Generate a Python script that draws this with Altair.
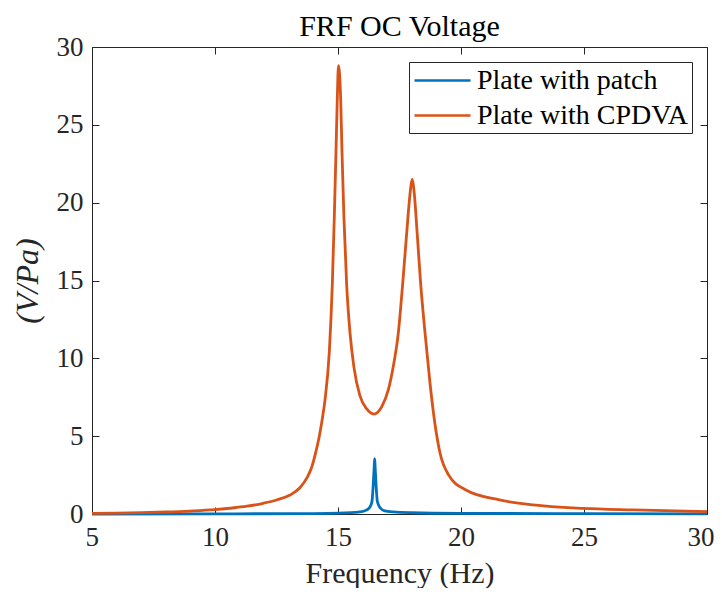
import altair as alt
import pandas as pd

# Plate with patch (blue)
patch_freq = [5.0, 10.0, 14.0, 15.0, 15.9, 16.15, 16.3, 16.38, 16.43, 16.47, 16.49,
              16.51, 16.55, 16.6, 16.71, 16.9, 17.25, 18.0, 20.0, 25.0, 30.0]
patch_val = [0.0, 0.01, 0.03, 0.05, 0.13, 0.25, 0.45, 0.8, 1.8, 3.0, 3.55,
             3.0, 1.8, 0.8, 0.4, 0.2, 0.13, 0.08, 0.04, 0.02, 0.01]

# Plate with CPDVA (orange)
cpdva_freq = [5.0, 6.0, 7.0, 8.0, 9.0, 10.0, 10.6, 11.3, 11.96, 12.5, 13.05, 13.46,
              13.73, 13.93, 14.07, 14.24, 14.35, 14.47, 14.65, 14.77, 14.85, 14.92,
              14.97, 15.02, 15.11, 15.16, 15.24, 15.35, 15.49, 15.65, 15.89, 16.17,
              16.46, 16.78, 17.05, 17.25, 17.45, 17.63, 17.79, 17.93, 18.01, 18.1,
              18.22, 18.36, 18.54, 18.74, 18.94, 19.15, 19.5, 20.2, 21.57, 22.93,
              24.96, 27.0, 30.0]
cpdva_val = [0.04, 0.06, 0.09, 0.13, 0.19, 0.28, 0.37, 0.5, 0.69, 0.9, 1.22, 1.7,
             2.3, 3.0, 3.8, 5.0, 6.0, 7.3, 10.5, 14.8, 19.1, 23.4,
             26.6, 28.8, 26.6, 23.4, 19.1, 14.8, 11.6, 9.4, 7.6, 6.75,
             6.42, 6.9, 8.0, 9.5, 11.6, 14.8, 18.0, 20.6, 21.5, 20.6,
             18.0, 14.8, 11.6, 8.4, 5.8, 3.9, 2.5, 1.54, 0.9, 0.58,
             0.36, 0.26, 0.15]

series_names = ["Plate with patch", "Plate with CPDVA"]
series_colors = ["#0072BD", "#D95319"]
x_ticks = [5, 10, 15, 20, 25, 30]
y_ticks = [0, 5, 10, 15, 20, 25, 30]

df = pd.concat([
    pd.DataFrame({"f": patch_freq, "v": patch_val, "series": series_names[0], "order": 0}),
    pd.DataFrame({"f": cpdva_freq, "v": cpdva_val, "series": series_names[1], "order": 1}),
])

W, H = 615, 467
FONT = "Liberation Serif"
AX = "#262626"

xscale = alt.Scale(domain=[5, 30], nice=False, zero=False)
yscale = alt.Scale(domain=[0, 30], nice=False)

lines = alt.Chart(df).mark_line(strokeWidth=2.8, interpolate="monotone").encode(
    x=alt.X("f:Q", scale=xscale, title="Frequency (Hz)",
            axis=alt.Axis(values=x_ticks, ticks=False, domain=False, grid=False,
                          labelPadding=10, labelFontSize=27, labelFont=FONT, labelColor=AX,
                          titleFont=FONT, titleFontSize=30, titleFontWeight="normal",
                          titleColor=AX, titlePadding=8,
                          labelFlush=True, labelFlushOffset=7)),
    y=alt.Y("v:Q", scale=yscale, title="(V/Pa)",
            axis=alt.Axis(values=y_ticks, ticks=False, domain=False, grid=False,
                          labelPadding=9, labelFontSize=27, labelFont=FONT, labelColor=AX,
                          titleFont=FONT, titleFontSize=32, titleFontWeight="normal",
                          titleFontStyle="italic", titleColor=AX, titlePadding=12,
                          labelFlush=False)),
    color=alt.Color("series:N",
                    scale=alt.Scale(domain=series_names, range=series_colors),
                    legend=alt.Legend(title=None, orient="top-right", offset=15,
                                      symbolType="M-2,0H2", symbolSize=784,
                                      symbolStrokeWidth=2.5, symbolOffset=15,
                                      labelFont=FONT, labelFontSize=28, labelLimit=400,
                                      labelColor="black",
                                      strokeColor=AX, fillColor="white",
                                      padding=3, rowPadding=5, labelOffset=19)),
    order="order:Q",
)

def tick_layer(xorient, yorient):
    return alt.Chart(df).mark_point(opacity=0).encode(
        x=alt.X("f:Q", scale=xscale, title=None,
                axis=alt.Axis(values=x_ticks, orient=xorient, offset=-H, labels=False,
                              domain=False, grid=False, ticks=True, tickSize=7,
                              tickColor=AX)),
        y=alt.Y("v:Q", scale=yscale, title=None,
                axis=alt.Axis(values=y_ticks, orient=yorient, offset=-W, labels=False,
                              domain=False, grid=False, ticks=True, tickSize=7,
                              tickColor=AX)),
    )

chart = alt.layer(
    lines,
    tick_layer("top", "right"),
    tick_layer("bottom", "left"),
).resolve_axis(x="independent", y="independent").properties(
    width=W, height=H,
    title=alt.Title("FRF OC Voltage", font=FONT, fontSize=30, fontWeight="normal",
                    color="black", offset=8, dy=17),
    autosize=alt.AutoSizeParams(type="none"),
    padding={"left": 84, "top": 39, "right": 7, "bottom": 74},
).configure_view(stroke=AX, strokeWidth=1)

chart.save("out.html", embed_options={"renderer": "svg", "actions": False})
